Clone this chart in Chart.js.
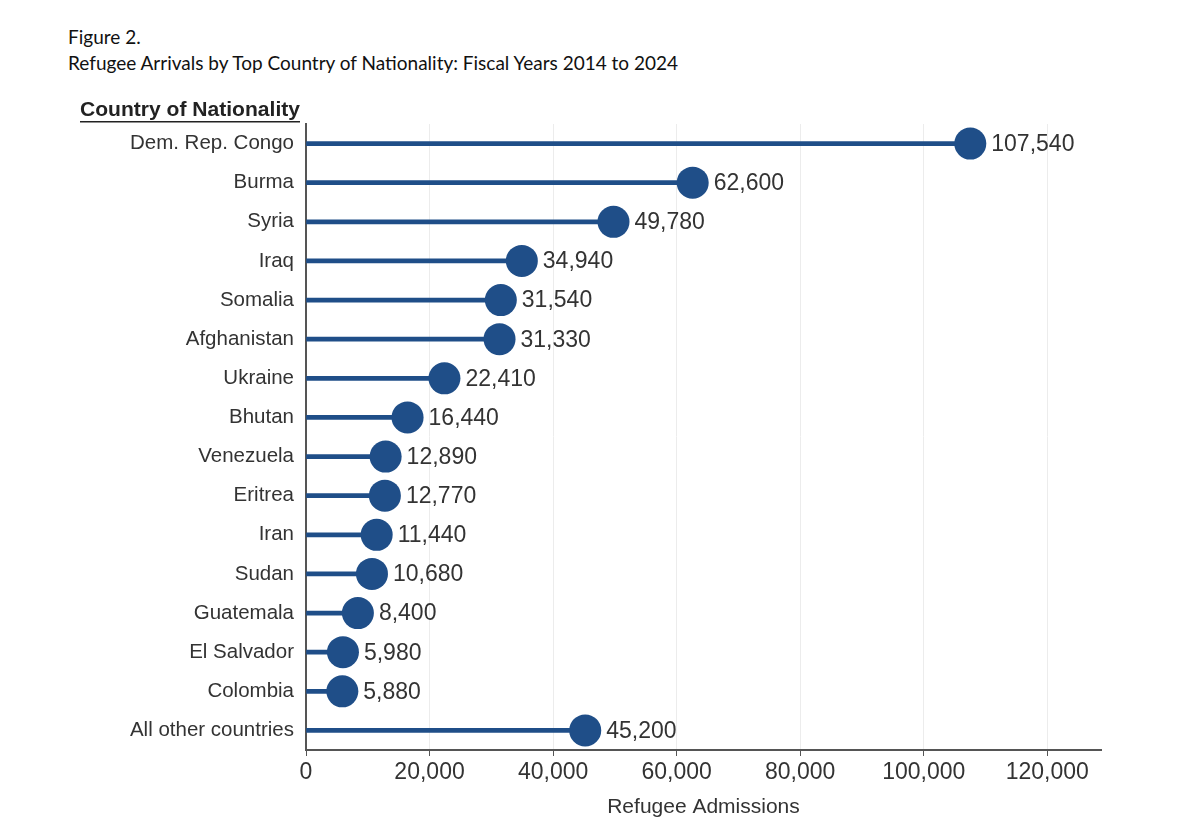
<!DOCTYPE html>
<html>
<head>
<meta charset="utf-8">
<script src="https://cdn.jsdelivr.net/npm/chart.js@4.4.1/dist/chart.umd.min.js"></script>
<style>
  body { margin: 0; background: #fff; }
  #wrap { position: relative; width: 1180px; height: 824px; }
  #graph { position: absolute; left: 0; top: 0; }
  .fig { position: absolute; left: 68px; font-family: Lato, "Noto Sans", sans-serif; color: #111; font-size: 19px; }
</style>
</head>
<body>
<div id="wrap">
  <div class="fig" style="top:25px">Figure 2.</div>
  <div class="fig" style="top:51px">Refugee Arrivals by Top Country of Nationality: Fiscal Years 2014 to 2024</div>
  <canvas id="graph" width="1180" height="824"></canvas>
</div>
<script>
const countries = ['Dem. Rep. Congo', 'Burma', 'Syria', 'Iraq', 'Somalia', 'Afghanistan', 'Ukraine', 'Bhutan',
    'Venezuela', 'Eritrea', 'Iran', 'Sudan', 'Guatemala', 'El Salvador', 'Colombia', 'All other countries'];
const admissions = [107540, 62600, 49780, 34940, 31540, 31330, 22410, 16440,
    12890, 12770, 11440, 10680, 8400, 5980, 5880, 45200];
const xTicks = [0, 20000, 40000, 60000, 80000, 100000, 120000];

const blue = '#1f4e88';
const font = '"Liberation Sans", Arial, sans-serif';

// value labels next to each dot + the y axis header
const labelPlugin = {
    id: 'labels',
    afterDatasetsDraw(chart) {
        const ctx = chart.ctx;
        const meta = chart.getDatasetMeta(1);
        ctx.save();
        ctx.font = '23px ' + font;
        ctx.fillStyle = '#333';
        ctx.textBaseline = 'middle';
        ctx.textAlign = 'left';
        meta.data.forEach((pt, i) => {
            ctx.fillText(admissions[i].toLocaleString('en-US'), pt.x + 21, pt.y + 1);
        });
        // header
        ctx.font = 'bold 21px ' + font;
        ctx.fillStyle = '#222';
        ctx.textAlign = 'right';
        const hx = 300, hy = 110;
        ctx.save();
        const w0 = ctx.measureText('Country of Nationality').width;
        ctx.translate(hx, 0);
        ctx.scale(220 / w0, 1);
        ctx.fillText('Country of Nationality', 0, hy);
        ctx.restore();
        ctx.fillRect(hx - 220, hy + 11, 220, 1.5);
        ctx.restore();
    }
};

const graph = document.getElementById('graph');
let chart = new Chart(graph, {
    data: {
        labels: countries,
        datasets: [{
            type: 'bar',
            data: admissions,
            backgroundColor: blue,
            barThickness: 4,
            order: 2
        }, {
            type: 'line',
            data: admissions,
            showLine: false,
            pointRadius: 16,
            pointHoverRadius: 16,
            pointBackgroundColor: blue,
            pointBorderColor: blue,
            pointBorderWidth: 0,
            order: 1
        }]
    },
    options: {
        indexAxis: 'y',
        responsive: false,
        animation: false,
        layout: { padding: { left: 0, top: 124, right: 79, bottom: 0 } },
        plugins: { legend: { display: false }, tooltip: { enabled: false } },
        scales: {
            x: {
                min: 0,
                max: 128700,
                afterBuildTicks(scale) { scale.ticks = xTicks.map(v => ({ value: v })); },
                afterFit(scale) { scale.height = 74; },
                grid: { color: '#ececec', lineWidth: 1, tickLength: 6, tickColor: '#555',
                    drawOnChartArea: true },
                border: { color: '#555', width: 2 },
                ticks: {
                    color: '#333',
                    padding: 3,
                    font: { family: font, size: 23 },
                    callback: v => v.toLocaleString('en-US')
                },
                title: {
                    display: true,
                    text: 'Refugee Admissions',
                    color: '#333',
                    padding: { top: 2 },
                    font: { family: font, size: 21 }
                }
            },
            y: {
                afterFit(scale) { scale.width = 306; },
                grid: { display: false },
                border: { color: '#555', width: 2 },
                ticks: {
                    color: '#333',
                    padding: 4,
                    font: { family: font, size: 20.5 }
                }
            }
        }
    },
    plugins: [labelPlugin]
});
</script>
</body>
</html>
